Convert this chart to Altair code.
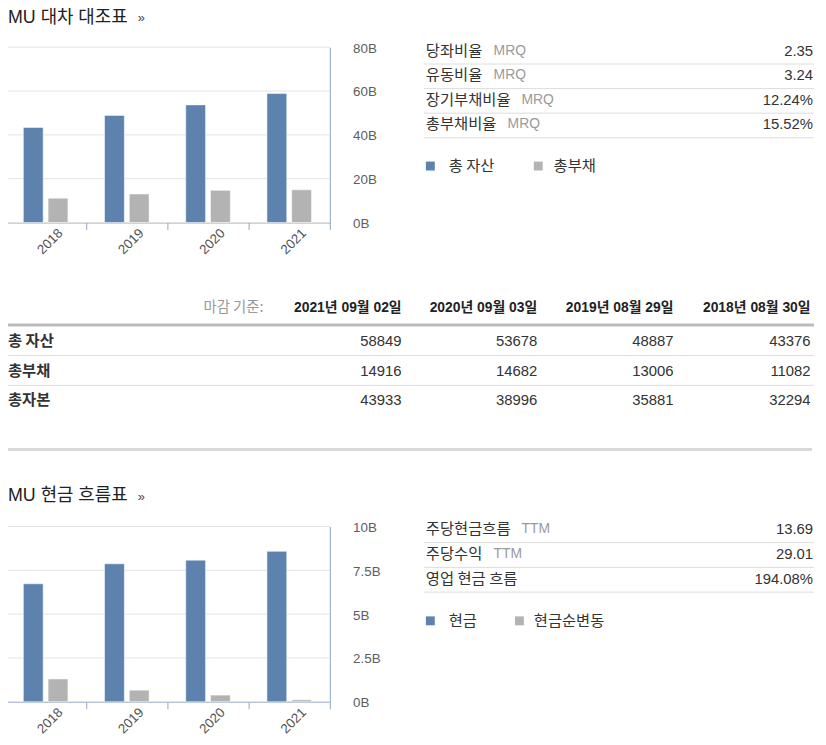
import altair as alt
import pandas as pd

# ---------------- data ----------------
years = ["2018", "2019", "2020", "2021"]

bs_title = "MU 대차 대조표"
bs_series = ["총 자산", "총부채"]
total_assets = [43376, 48887, 53678, 58849]        # in millions
total_liabilities = [11082, 13006, 14682, 14916]
total_equity = [32294, 35881, 38996, 43933]
bs_ticks = [0, 20, 40, 60, 80]                      # B

bs_ratio_labels = ["당좌비율", "유동비율", "장기부채비율", "총부채비율"]
bs_ratio_suffix = ["MRQ", "MRQ", "MRQ", "MRQ"]
bs_ratio_values = ["2.35", "3.24", "12.24%", "15.52%"]

table_header = "마감 기준:"
table_dates = ["2021년 09월 02일", "2020년 09월 03일", "2019년 08월 29일", "2018년 08월 30일"]
table_rows = ["총 자산", "총부채", "총자본"]

cf_title = "MU 현금 흐름표"
cf_series = ["현금", "현금순변동"]
cash = [6.73, 7.87, 8.08, 8.58]                     # B
net_cash_change = [1.30, 0.66, 0.38, 0.11]          # B
cf_ticks = [0, 2.5, 5, 7.5, 10]

cf_ratio_labels = ["주당현금흐름", "주당수익", "영업 현금 흐름"]
cf_ratio_suffix = ["TTM", "TTM", ""]
cf_ratio_values = ["13.69", "29.01", "194.08%"]

# ---------------- layout / style ----------------
W, H = 818, 729
BLUE, GRAY = "#5d82ae", "#b3b3b3"
AXIS_C = "#8ea4c2"
GRID_C = "#e3e3e3"
LAT = "'Liberation Sans', 'Noto Sans CJK KR', sans-serif"
KR = "'Noto Sans CJK KR', 'Liberation Sans', sans-serif"
KR_SIZE = 15.5
KR_ADV = 0.91 * KR_SIZE

PLOT_X0, PLOT_X1 = -3, 325

PX = alt.Scale(domain=[0, W], range=[0, W], nice=False, zero=False)
PY = alt.Scale(domain=[0, H], range=[0, H], nice=False, zero=False)


def px(f="x"):
    return alt.X(f"{f}:Q", scale=PX, axis=None)


def py(f="y"):
    return alt.Y(f"{f}:Q", scale=PY, axis=None)


def txt(df, **kw):
    return alt.Chart(df).mark_text(**kw).encode(x=px(), y=py(), text="text:N")


def rule(df, color, width):
    return alt.Chart(df).mark_rule(color=color, strokeWidth=width).encode(
        x=px(), x2=alt.X2("x2"), y=py())


def bar_block(a, b, series, ticks, ymax, y_bottom, y_top):
    df = pd.DataFrame({
        "year": years * 2,
        "series": [series[0]] * len(years) + [series[1]] * len(years),
        "value": list(a) + list(b),
    })
    yenc = alt.Y(
        "value:Q",
        scale=alt.Scale(domain=[0, ymax], range=[y_bottom, y_top], nice=False, zero=True),
        axis=alt.Axis(orient="right", offset=PLOT_X1 - W, values=ticks,
                      labelExpr="datum.value + 'B'", title=None, grid=False,
                      ticks=False, domainColor=AXIS_C, domainWidth=1,
                      labelPadding=23, labelOffset=1, labelFont=LAT,
                      labelFontSize=13.5, labelColor="#5e5e5e",
                      labelAlign="left", labelBaseline="middle"),
    )
    xenc = alt.X(
        "year:N", sort=years,
        scale=alt.Scale(range=[PLOT_X0, PLOT_X1], paddingInner=0, paddingOuter=0),
        axis=alt.Axis(orient="bottom", offset=y_bottom - H, title=None, grid=False,
                      domainColor=AXIS_C, tickColor=AXIS_C, tickSize=7,
                      tickBand="extent", labelAngle=315, labelAlign="center",
                      labelBaseline="middle", labelPadding=12, labelOffset=4,
                      labelFont=LAT, labelFontSize=13.5, labelColor="#555555",
                      labelOverlap=False),
    )
    grid = alt.Chart(pd.DataFrame({"value": ticks})).mark_rule(
        color=GRID_C, strokeWidth=1).encode(
        y=yenc, x=alt.value(0), x2=alt.value(PLOT_X1))
    bars = alt.Chart(df).mark_bar(stroke="white", strokeWidth=1, strokeOpacity=0.5).encode(
        x=xenc,
        xOffset=alt.XOffset("series:N", sort=series,
                            scale=alt.Scale(domain=series, paddingInner=0.2, paddingOuter=0.74)),
        y=yenc,
        color=alt.Color("series:N", scale=alt.Scale(domain=series, range=[BLUE, GRAY]), legend=None),
    )
    return alt.layer(grid, bars)


chart_bs = bar_block([v / 1000 for v in total_assets], [v / 1000 for v in total_liabilities],
                     bs_series, bs_ticks, 80, 213, 36)
chart_cf = bar_block(cash, net_cash_change, cf_series, cf_ticks, 10, 697, 520)

# ---------------- text panels ----------------
layers = []

# titles
layers.append(txt(pd.DataFrame({"text": [bs_title, cf_title], "x": [0, 0], "y": [11.5, 494.3]}),
                  align="left", baseline="alphabetic", font=LAT, fontSize=18, color="#222222"))
layers.append(txt(pd.DataFrame({"text": ["»", "»"], "x": [131, 131], "y": [11, 493.8]}),
                  align="left", baseline="alphabetic", font=LAT, fontSize=13, color="#444444"))


def ratio_panel(labels, suffixes, values, sep0, step):
    n = len(labels)
    seps = [sep0 + step * i for i in range(n)]
    centers = [s - 13.5 for s in seps]
    out = []
    out.append(txt(pd.DataFrame({"text": labels, "x": [422] * n, "y": centers}),
                   align="left", baseline="middle", font=KR, fontSize=KR_SIZE, color="#333333"))
    sx = [422 + KR_ADV * len(l.replace(" ", "")) + 4.5 * l.count(" ") + 12 for l in labels]
    out.append(txt(pd.DataFrame({"text": suffixes, "x": sx, "y": centers}),
                   align="left", baseline="middle", font=LAT, fontSize=14, color="#9a9a9a"))
    out.append(txt(pd.DataFrame({"text": values, "x": [813] * n, "y": centers}),
                   align="right", baseline="middle", font=LAT, fontSize=15, color="#333333"))
    out.append(rule(pd.DataFrame({"x": [420] * n, "x2": [814] * n, "y": seps}), "#dddddd", 1))
    return out


layers += ratio_panel(bs_ratio_labels, bs_ratio_suffix, bs_ratio_values, 53, 24.8)
layers += ratio_panel(cf_ratio_labels, cf_ratio_suffix, cf_ratio_values, 536.3, 25)

# legends
leg = pd.DataFrame({
    "series": bs_series + cf_series,
    "x": [426.5, 535.5, 426.5, 516.5],
    "y": [156, 156, 615.3, 615.3],
    "tx": [445, 551, 445, 531],
})
layers.append(alt.Chart(leg).mark_square(size=81, opacity=1).encode(
    x=px(), y=py(),
    color=alt.Color("series:N", scale=alt.Scale(domain=bs_series + cf_series,
                                                range=[BLUE, GRAY, BLUE, GRAY]), legend=None)))
layers.append(alt.Chart(leg).mark_text(align="left", baseline="middle", font=KR, fontSize=KR_SIZE,
                                       color="#333333").encode(
    x=px("tx"), y=py(), text="series:N"))

# table
col_x = [397.5, 534.5, 672, 810.5]
layers.append(txt(pd.DataFrame({"text": [table_header], "x": [258], "y": [299]}),
                  align="right", baseline="middle", font=KR, fontSize=14.5, color="#999999"))
layers.append(txt(pd.DataFrame({"text": table_dates, "x": col_x, "y": [299] * 4}),
                  align="right", baseline="middle", font=LAT, fontSize=14, fontWeight="bold",
                  color="#222222"))
row_y = [333, 363, 392]
layers.append(txt(pd.DataFrame({"text": table_rows, "x": [0] * 3, "y": row_y}),
                  align="left", baseline="middle", font=KR, fontSize=15.5, fontWeight="bold",
                  color="#333333"))
tvals = []
for r, series_vals in enumerate([total_assets, total_liabilities, total_equity]):
    for c, v in enumerate(reversed(series_vals)):
        tvals.append({"text": str(v), "x": col_x[c], "y": row_y[r]})
layers.append(txt(pd.DataFrame(tvals), align="right", baseline="middle", font=LAT,
                  fontSize=15, color="#333333"))
layers.append(rule(pd.DataFrame({"x": [0], "x2": [814], "y": [316.5]}), "#bbbbbb", 3))
layers.append(rule(pd.DataFrame({"x": [0, 0], "x2": [814, 814], "y": [347.3, 377.5]}), "#dddddd", 1))
layers.append(rule(pd.DataFrame({"x": [0], "x2": [812], "y": [442.3]}), "#d9d9d9", 3))

pixel_layer = alt.layer(*layers)

chart = alt.layer(chart_bs, chart_cf, pixel_layer).resolve_scale(
    x="independent", y="independent", xOffset="independent", color="independent"
).properties(
    width=W, height=H, autosize=alt.AutoSizeParams(type="none"), padding=0
).configure_view(stroke=None)

chart.save("out.html", embed_options={"renderer": "svg", "actions": False})
